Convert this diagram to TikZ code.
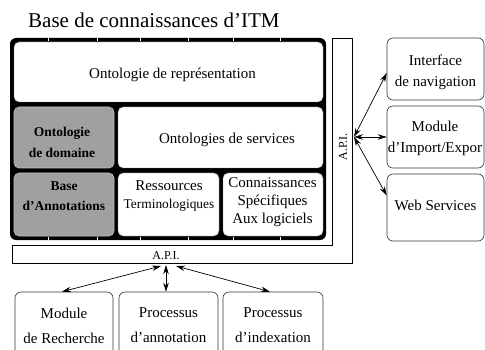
\documentclass[tikz,border=0pt]{standalone}
\usepackage{fontspec}
\setmainfont{Liberation Serif}
\usetikzlibrary{arrows.meta}
\definecolor{boxgrey}{RGB}{160,160,160}
\definecolor{greyline}{RGB}{190,190,190}
\begin{document}
\begin{tikzpicture}[x=1pt,y=-1pt,
  wbox/.style={draw=black!55, line width=0.4pt, fill=white, rounded corners=5pt, inner sep=0pt},
  gbox/.style={draw=greyline, line width=0.6pt, fill=boxgrey, rounded corners=5pt, inner sep=0pt},
  obox/.style={draw=black!80, line width=0.6pt, fill=white, rounded corners=6pt, inner sep=0pt},
  txt/.style={inner sep=0pt, align=center, font=\fontsize{15}{21}\selectfont},
  btxt/.style={inner sep=0pt, align=center, font=\fontsize{13.5}{21}\selectfont\bfseries},
  apitxt/.style={inner sep=0pt, font=\fontsize{12}{14}\selectfont},
  link/.style={{Stealth[length=9pt,width=5.5pt]}-{Stealth[length=9pt,width=5.5pt]}, line width=0.7pt},
  tick/.style={draw=white, line width=0.7pt}
]
\useasboundingbox (0,0) rectangle (485,350);
\clip (0,0) rectangle (485,350);

% title
\node[anchor=base west, inner sep=0pt, font=\fontsize{21}{25}\selectfont] (title) at (28,28) {Base de connaissances d’ITM};

% API L-shaped frame
\draw[line width=0.6pt] (332,38) -- (352,38) -- (352,263) -- (12,263) -- (12,245) -- (332,245) -- cycle;
\node[apitxt, rotate=90] (apiRlabel) at (343,147) {A.P.I.};
\node[apitxt] (apiBlabel) at (166,255.5) {A.P.I.};

% knowledge base
\node[fill=black, rounded corners=6pt, minimum width=316, minimum height=202, inner sep=0pt] (kb) at (168,139) {};
\foreach \x in {48,97,140,188,233,280}{
  \draw[tick] (\x,38) -- (\x,41.5);
  \draw[tick] (\x,236.5) -- (\x,240);
}
\node[wbox, minimum width=309, minimum height=60] (rep) at (168.5,72) {};
\node[gbox, minimum width=100, minimum height=61] (dom) at (64,137.5) {};
\node[wbox, minimum width=205, minimum height=61] (serv) at (220.5,137.5) {};
\node[gbox, minimum width=100, minimum height=63] (annot) at (64,204.5) {};
\node[wbox, minimum width=101, minimum height=63] (ress) at (168.5,204.5) {};
\node[wbox, minimum width=100, minimum height=63] (spec) at (273,204.5) {};

\node[txt] (rep-t) at (172.5,74.5) {Ontologie de représentation};
\node[txt] (serv-t) at (227,140) {Ontologies de services};
\node[btxt] (dom-t) at (62,142) {Ontologie\\de domaine};
\node[btxt, font=\fontsize{13.5}{20}\selectfont\bfseries] (annot-t) at (64,196.5) {Base\\d’Annotations};
\node[txt, font=\fontsize{15}{18}\selectfont] (ress-t) at (169,196.5) {Ressources\\{\fontsize{13.4}{18}\selectfont Terminologiques}};
\node[txt, font=\fontsize{15}{18}\selectfont] (spec-t) at (272.5,202.5) {Connaissances\\Spécifiques\\Aux logiciels};

% right boxes
\node[obox, minimum width=97, minimum height=62] (iface) at (435.5,69) {};
\node[obox, minimum width=97, minimum height=62] (impexp) at (435.5,137) {};
\node[obox, minimum width=97, minimum height=67] (web) at (435.5,207.5) {};
\node[txt] (iface-t) at (435.5,72.5) {Interface\\de navigation};
\node[txt] (impexp-t) at (435,138) {Module\\d’Import/Expor};
\node[txt] (web-t) at (435.5,205) {Web Services};

% bottom boxes
\node[obox, minimum width=98, minimum height=68] (rech) at (64,326) {};
\node[obox, minimum width=99, minimum height=68] (annp) at (168.5,326) {};
\node[obox, minimum width=100, minimum height=68] (idx) at (273,326) {};
\node[txt, font=\fontsize{15}{25}\selectfont] (rech-t) at (64,325.5) {Module\\de Recherche};
\node[txt, font=\fontsize{15}{25}\selectfont] (annp-t) at (168.5,325.5) {Processus\\d’annotation};
\node[txt, font=\fontsize{15}{25}\selectfont] (idx-t) at (273,325.5) {Processus\\d’indexation};

% connectors
\coordinate (apiR) at (354,137);
\coordinate (apiBL) at (161,266);
\coordinate (apiB) at (166,265);
\coordinate (apiBR) at (176,266);
\draw[link] (apiR) -- ([yshift=-4pt]iface.west);
\draw[link] (apiR) -- (impexp.west);
\draw[link] (apiR) -- ([yshift=12pt]web.west);
\draw[link] (apiBL) -- ([xshift=-2pt]rech.north);
\draw[link] (apiB) -- ([xshift=-2.5pt]annp.north);
\draw[link] (apiBR) -- ([xshift=-3pt]idx.north);
\end{tikzpicture}
\end{document}
